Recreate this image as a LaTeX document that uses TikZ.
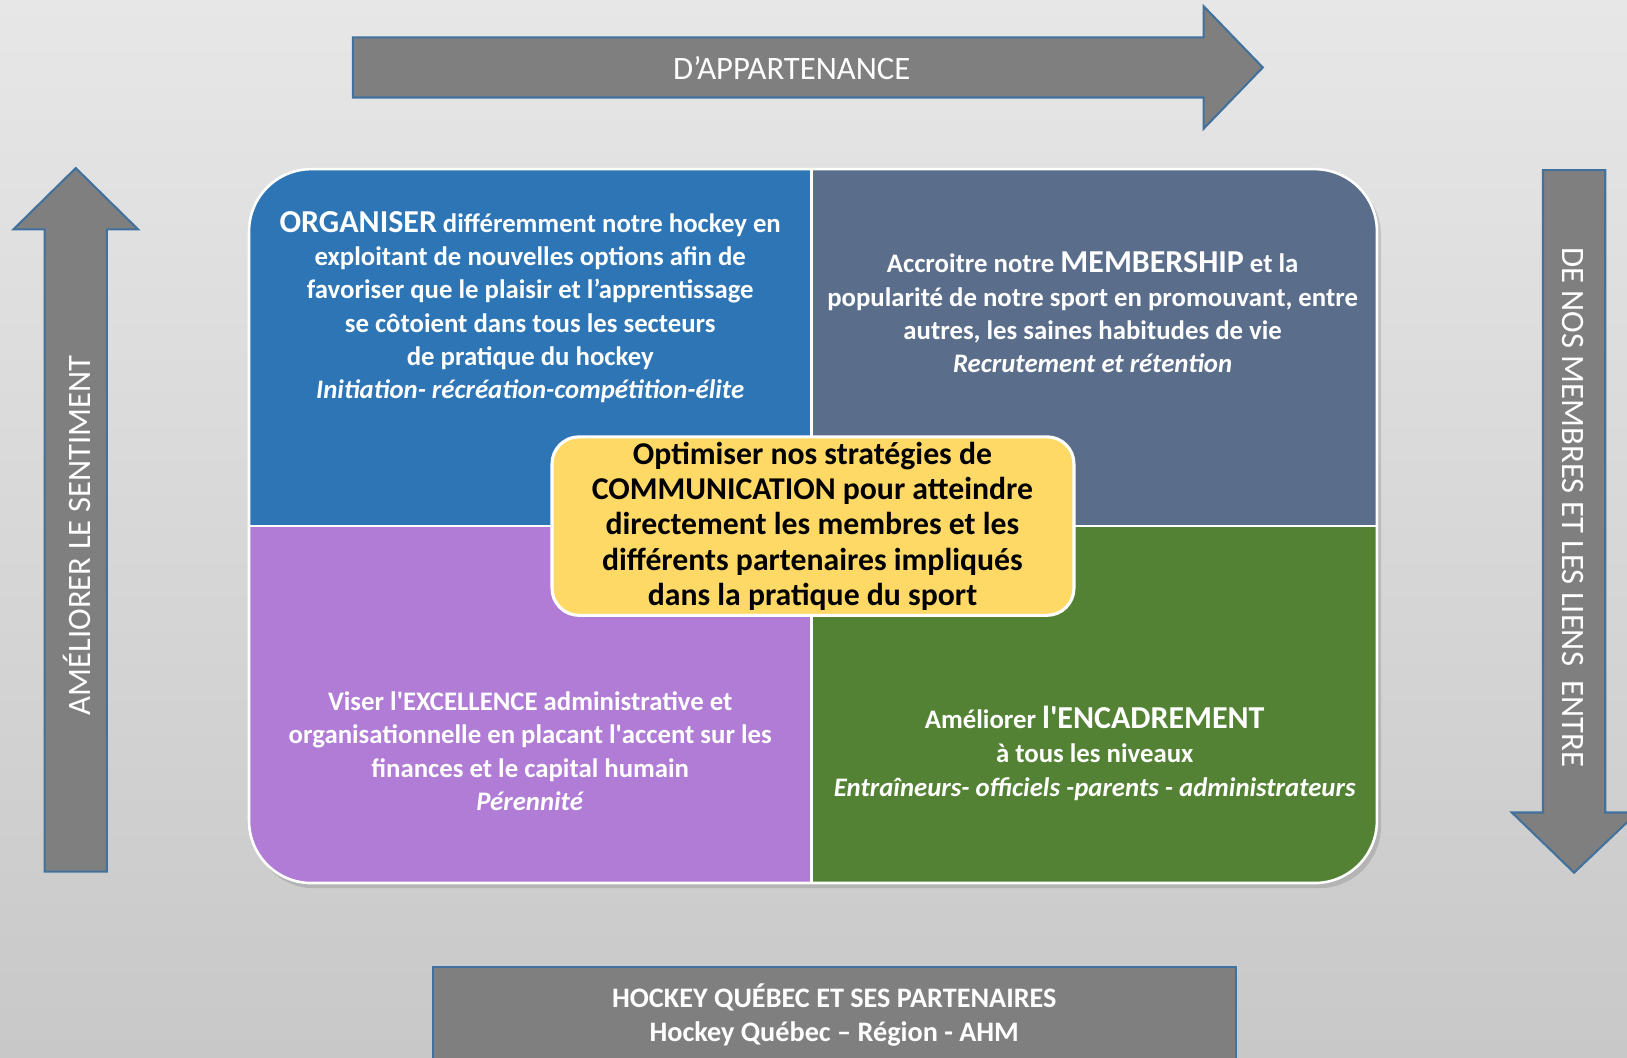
\documentclass[tikz,border=0pt]{standalone}
\usepackage{fontspec}
\setmainfont{Carlito}
\definecolor{bgtop}{HTML}{E7E7E7}
\definecolor{bgbot}{HTML}{C8C8C8}
\definecolor{arrowgray}{HTML}{7F7F7F}
\definecolor{arrowedge}{HTML}{41719C}
\definecolor{qblue}{HTML}{2E75B6}
\definecolor{qslate}{HTML}{5A6E8C}
\definecolor{qpurple}{HTML}{B07CD6}
\definecolor{qgreen}{HTML}{548235}
\definecolor{qyellow}{HTML}{FFD966}
\newcommand{\bigword}[1]{{\fontsize{30.8}{32}\selectfont #1}}
\newcommand{\sq}{\textquotesingle}
\tikzset{
  bigarrow/.style={fill=arrowgray, draw=arrowedge, line width=2pt, line join=miter},
  arrowtext/.style={text=white, inner sep=0pt, font=\fontsize{31.5}{34}\selectfont},
  quadtext/.style={text=white, align=center, inner sep=0pt, font=\bfseries\fontsize{25.8}{32}\selectfont},
  divider/.style={draw=white, line width=2.5pt}
}
\begin{document}
\begin{tikzpicture}[x=1pt,y=-1pt]
\useasboundingbox (0,0) rectangle (1568,1019);
\clip (0,0) rectangle (1568,1019);
\shade[top color=bgtop, bottom color=bgbot] (0,0) rectangle (1568,1019);

% top arrow
\draw[bigarrow] (340,36) -- (1160,36) -- (1160,6) -- (1217,65) -- (1160,124) -- (1160,94) -- (340,94) -- cycle;
\node[arrowtext] (tarrow) at (763,66) {D’APPARTENANCE};

% left arrow
\draw[bigarrow] (43,840) -- (43,221) -- (13,221) -- (73,162) -- (133,221) -- (103,221) -- (103,840) -- cycle;
\node[arrowtext, rotate=90] (larrow) at (74,516) {AMÉLIORER LE SENTIMENT};

% right arrow
\draw[bigarrow] (1487,164) -- (1547,164) -- (1547,783) -- (1578,783) -- (1517,841) -- (1457,783) -- (1487,783) -- cycle;
\node[arrowtext, rotate=-90] (rarrow) at (1516,489) {DE NOS MEMBRES ET LES LIENS \ ENTRE};

% bottom box
\draw[bigarrow] (417,932) rectangle (1191,1030);
\node[text=white, align=center, inner sep=0pt, font=\bfseries\fontsize{27.2}{33}\selectfont] (bottom) at (804,978)
  {HOCKEY QUÉBEC ET SES PARTENAIRES\\Hockey Québec – Région - AHM};

% shadow of main box
\fill[black, opacity=0.12, rounded corners=60] (243,167) rectangle (1331,856);

% quadrants
\begin{scope}
\clip[rounded corners=60] (240,163) rectangle (1327,851);
\fill[qblue] (240,163) rectangle (782,507);
\fill[qslate] (782,163) rectangle (1327,507);
\fill[qpurple] (240,507) rectangle (783,851);
\fill[qgreen] (783,507) rectangle (1327,851);
\end{scope}
\draw[divider] (782,163) -- (782,851);
\draw[divider] (240,507) -- (1327,507);
\draw[draw=white, line width=2.5pt, rounded corners=60] (240,163) rectangle (1327,851);

% quadrant texts
\node[quadtext] (q1) at (511,296)
  {\bigword{ORGANISER} différemment notre hockey en\\
   exploitant de nouvelles options afin de\\
   favoriser que le plaisir et l’apprentissage\\
   se côtoient dans tous les secteurs\\
   de pratique du hockey\\
   \textit{Initiation- récréation-compétition-élite}};
\node[quadtext] (q2) at (1053,301)
  {Accroitre notre \bigword{MEMBERSHIP} et la\\
   popularité de notre sport en promouvant, entre\\
   autres, les saines habitudes de vie\\
   \textit{Recrutement et rétention}};
\node[quadtext] (q3) at (511,724)
  {Viser l\sq EXCELLENCE administrative et\\
   organisationnelle en placant l\sq accent sur les\\
   finances et le capital humain\\
   \textit{Pérennité}};
\node[quadtext, font=\bfseries\fontsize{25.8}{33}\selectfont] (q4) at (1055,726)
  {Améliorer \bigword{l\sq ENCADREMENT}\\
   à tous les niveaux\\
   \textit{Entraîneurs- officiels -parents - administrateurs}};

% center box
\draw[fill=qyellow, draw=white, line width=3pt, rounded corners=26] (532,421) rectangle (1035,593);
\node[text=black, align=center, inner sep=0pt, font=\bfseries\fontsize{30.6}{34}\selectfont] (center) at (783,507)
  {Optimiser nos stratégies de\\
   COMMUNICATION pour atteindre\\
   directement les membres et les\\
   différents partenaires impliqués\\
   dans la pratique du sport};
\end{tikzpicture}
\end{document}
